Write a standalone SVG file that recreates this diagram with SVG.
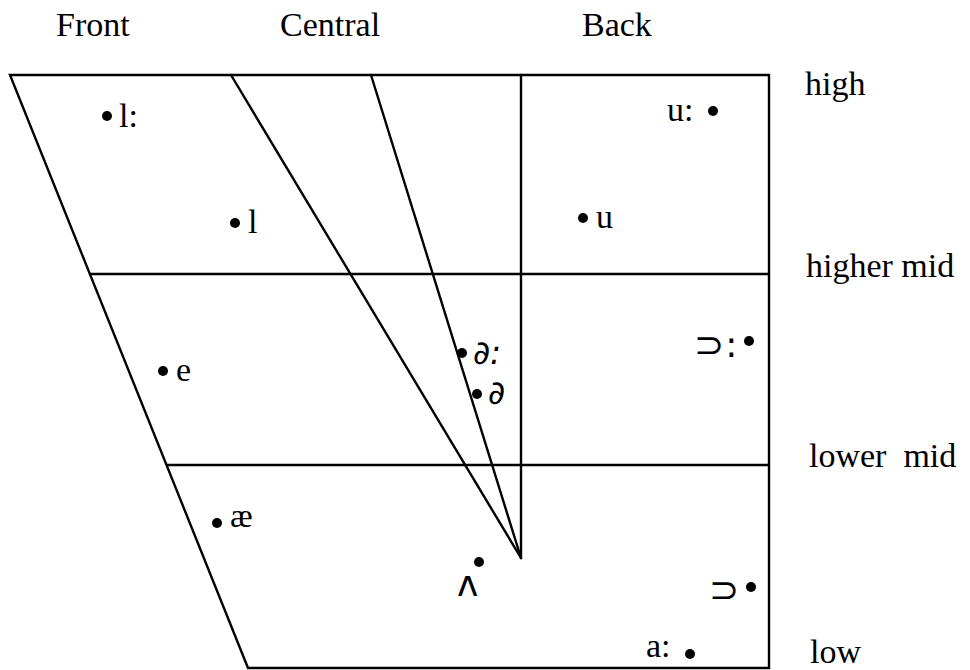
<svg xmlns="http://www.w3.org/2000/svg" width="970" height="670" viewBox="0 0 970 670">
<style>
.ln{stroke:#000;stroke-width:2.4;fill:none;stroke-linecap:round;stroke-linejoin:miter}
.lab{font-family:"Liberation Serif","Times New Roman",serif;font-size:34px;fill:#000}
.v{font-family:"Liberation Serif","Times New Roman",serif;font-size:34px;fill:#000}
.schwa{font-family:"DejaVu Sans","Liberation Sans",sans-serif;font-size:33px;font-style:italic;fill:#000}
.sup{font-family:"DejaVu Sans","Liberation Sans",sans-serif;font-size:36px;fill:#000}
.wedge{font-family:"DejaVu Sans","Liberation Sans",sans-serif;font-size:36px;fill:#000}
.dot{fill:#000}
</style>
<rect width="970" height="670" fill="#fff"/>
<g id="connectors">
<polygon class="ln" points="10,75 769,75 769,668 248,668"/>
<line class="ln" x1="90" y1="274" x2="769" y2="274"/>
<line class="ln" x1="167" y1="465" x2="769" y2="465"/>
<line class="ln" x1="231" y1="75" x2="521" y2="558"/>
<line class="ln" x1="371" y1="75" x2="521" y2="558"/>
<line class="ln" x1="521" y1="75" x2="521" y2="558"/>
</g>
<g id="axis-labels">
<text class="lab" x="56" y="36">Front</text>
<text class="lab" x="280" y="36">Central</text>
<text class="lab" x="582" y="36">Back</text>
<text class="lab" x="805" y="95">high</text>
<text class="lab" x="806" y="277">higher mid</text>
<text class="lab" x="809" y="467" xml:space="preserve">lower  mid</text>
<text class="lab" x="810" y="663">low</text>
</g>
<g id="v-ii"><circle class="dot" cx="107" cy="116" r="5"/><text class="v" x="119" y="127">l:</text></g>
<g id="v-i"><circle class="dot" cx="235" cy="223" r="5"/><text class="v" x="248" y="233">l</text></g>
<g id="v-u"><circle class="dot" cx="583" cy="218" r="5"/><text class="v" x="596" y="228">u</text></g>
<g id="v-uu"><text class="v" x="667" y="121">u:</text><circle class="dot" cx="713" cy="111" r="5"/></g>
<g id="v-e"><circle class="dot" cx="163" cy="371" r="5"/><text class="v" x="176" y="381">e</text></g>
<g id="v-schwa-long"><circle class="dot" cx="462" cy="353" r="5"/><text class="schwa" x="473" y="364">∂:</text></g>
<g id="v-schwa"><circle class="dot" cx="477" cy="394" r="5"/><text class="schwa" x="488" y="404">∂</text></g>
<g id="v-oo"><text class="sup" x="694" y="357">⊃<tspan dx="1">:</tspan></text><circle class="dot" cx="749" cy="341" r="5"/></g>
<g id="v-ae"><circle class="dot" cx="217" cy="523" r="5"/><text class="v" x="230" y="527">æ</text></g>
<g id="v-wedge"><circle class="dot" cx="479" cy="562" r="5"/><text class="wedge" x="457" y="596">ʌ</text></g>
<g id="v-o"><text class="sup" x="709" y="602">⊃</text><circle class="dot" cx="751" cy="587" r="5"/></g>
<g id="v-aa"><text class="v" x="646" y="657">a:</text><circle class="dot" cx="690" cy="654" r="5"/></g>
</svg>
